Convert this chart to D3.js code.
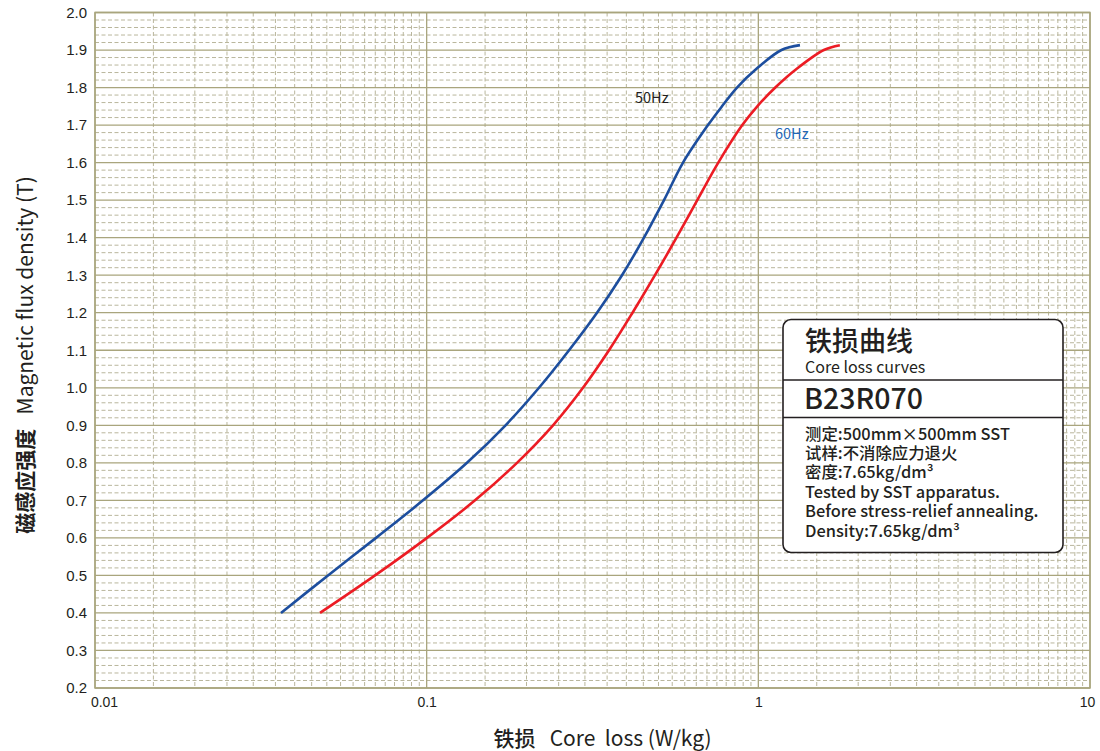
<!DOCTYPE html>
<html>
<head>
<meta charset="utf-8">
<script src="https://cdn.jsdelivr.net/npm/d3@7"></script>
<style>
  html, body { margin: 0; padding: 0; background: #ffffff; }
  svg { display: block; }
</style>
</head>
<body>
<svg id="chart" width="1100" height="751"></svg>
<script>
// Core loss (W/kg) vs. magnetic flux density (T)
const flux = [0.40, 0.50, 0.60, 0.70, 0.80, 0.90, 1.00, 1.10, 1.20, 1.30, 1.40, 1.50, 1.60, 1.70, 1.75, 1.80, 1.85, 1.90, 1.913];
const loss50 = [0.03637, 0.05041, 0.07036, 0.09749, 0.1323, 0.1729, 0.2181, 0.2687, 0.3263, 0.3881, 0.4521, 0.5195, 0.5929, 0.7050, 0.7770, 0.8623, 0.9873, 1.1744, 1.3352];
const loss60 = [0.04769, 0.06989, 0.1002, 0.1399, 0.1872, 0.2404, 0.2960, 0.3546, 0.4175, 0.4880, 0.5665, 0.6545, 0.7573, 0.8945, 0.9928, 1.125, 1.306, 1.576, 1.761];

const xTicks = [0.01, 0.1, 1, 10];
const xTickLabels = ["0.01", "0.1", "1", "10"];
const yTicks = [0.2, 0.3, 0.4, 0.5, 0.6, 0.7, 0.8, 0.9, 1.0, 1.1, 1.2, 1.3, 1.4, 1.5, 1.6, 1.7, 1.8, 1.9, 2.0];

const seriesLabels = ["50Hz", "60Hz"];
const boxTitle = "铁损曲线";
const boxSubtitle = "Core loss curves";
const gradeName = "B23R070";
const boxNotes = [
  "测定:500mm×500mm SST",
  "试样:不消除应力退火",
  "密度:7.65kg/dm³",
  "Tested by SST apparatus.",
  "Before stress-relief annealing.",
  "Density:7.65kg/dm³"
];
const xTitleCn = "铁损", xTitleEn = "Core  loss (W/kg)";
const yTitleCn = "磁感应强度", yTitleEn = "Magnetic flux density (T)";

const svg = d3.select("#chart");
const plot = { left: 95, right: 1090, top: 12.5, bottom: 688 };

const x = d3.scaleLog().domain([0.01, 10]).range([plot.left, plot.right]);
const y = d3.scaleLinear().domain([0.2, 2.0]).range([plot.bottom, plot.top]);

const majorCol = "#a9a57d";
const minorCol = "#b9b69c";
const textCol = "#231f20";
const cjk = "Noto Sans CJK SC, Noto Sans, sans-serif";

const grid = svg.append("g");

// minor horizontal grid every 0.02 T
const yMinor = d3.range(0, 91).map(i => 0.2 + i * 0.02).filter((v, i) => i % 5 !== 0);
grid.selectAll("line.hmin").data(yMinor).join("line")
  .attr("x1", plot.left).attr("x2", plot.right)
  .attr("y1", d => y(d)).attr("y2", d => y(d))
  .attr("stroke", minorCol).attr("stroke-width", 1)
  .attr("stroke-dasharray", "4,2.5");

// minor vertical grid every half unit within each decade
const xMinor = [];
[0.01, 0.1, 1].forEach(dec => {
  for (let m = 1.5; m < 10; m += 0.5) xMinor.push(dec * m);
});
grid.selectAll("line.vmin").data(xMinor).join("line")
  .attr("x1", d => x(d)).attr("x2", d => x(d))
  .attr("y1", plot.top).attr("y2", plot.bottom)
  .attr("stroke", minorCol).attr("stroke-width", 1)
  .attr("stroke-dasharray", "4,2.5");

// major grid lines
grid.selectAll("line.hmaj").data(yTicks).join("line")
  .attr("x1", plot.left).attr("x2", plot.right)
  .attr("y1", d => y(d)).attr("y2", d => y(d))
  .attr("stroke", majorCol).attr("stroke-width", 1.3);
grid.selectAll("line.vmaj").data(xTicks).join("line")
  .attr("x1", d => x(d)).attr("x2", d => x(d))
  .attr("y1", plot.top).attr("y2", plot.bottom)
  .attr("stroke", majorCol).attr("stroke-width", 1.3);

grid.append("rect")
  .attr("x", plot.left).attr("y", plot.top)
  .attr("width", plot.right - plot.left).attr("height", plot.bottom - plot.top)
  .attr("fill", "none").attr("stroke", majorCol).attr("stroke-width", 1.5);

// axes (labels only; the grid supplies the lines)
const yAxis = d3.axisLeft(y).tickValues(yTicks).tickFormat(d3.format(".1f")).tickSize(0).tickPadding(8);
const gy = svg.append("g").attr("transform", `translate(${plot.left},0)`).call(yAxis);
gy.select(".domain").remove();
gy.selectAll("text")
  .attr("font-family", "Liberation Sans, Arial, sans-serif")
  .attr("font-size", 15).attr("fill", textCol);

const xAxis = d3.axisBottom(x).tickValues(xTicks)
  .tickFormat((d, i) => xTickLabels[i]).tickSize(0).tickPadding(9);
const gx = svg.append("g").attr("transform", `translate(0,${plot.bottom})`).call(xAxis);
gx.select(".domain").remove();
gx.selectAll("text")
  .attr("font-family", "Liberation Sans, Arial, sans-serif")
  .attr("font-size", 14).attr("fill", textCol)
  .attr("dx", (d, i) => i === 0 ? 9 : (i === 3 ? -3 : 0));

// curves
const line = d3.line()
  .x(d => x(d[0])).y(d => y(d[1]))
  .curve(d3.curveCatmullRom.alpha(0.5));

const series = [
  { loss: loss50, color: "#1d4e9e" },
  { loss: loss60, color: "#ec1c24" }
];
series.forEach(s => {
  const pts = s.loss.map((v, i) => [v, flux[i]]);
  svg.append("path").datum(pts)
    .attr("d", line)
    .attr("fill", "none").attr("stroke", s.color)
    .attr("stroke-width", 2.6).attr("stroke-linecap", "butt");
});

// curve labels
svg.append("text").attr("x", 635).attr("y", 103).text(seriesLabels[0])
  .attr("font-family", cjk).attr("font-size", 14.5).attr("fill", textCol);
svg.append("text").attr("x", 775).attr("y", 139).text(seriesLabels[1])
  .attr("font-family", cjk).attr("font-size", 14.5).attr("fill", "#2267b8");

// info box
const box = { x: 783, y: 319.5, w: 280, h: 233 };
const bg = svg.append("g");
bg.append("rect")
  .attr("x", box.x).attr("y", box.y).attr("width", box.w).attr("height", box.h)
  .attr("rx", 8).attr("ry", 8)
  .attr("fill", "#ffffff").attr("stroke", "#231f20").attr("stroke-width", 1.6);
[380, 417.5].forEach(yy => {
  bg.append("line").attr("x1", box.x).attr("x2", box.x + box.w)
    .attr("y1", yy).attr("y2", yy)
    .attr("stroke", "#231f20").attr("stroke-width", 1.4);
});
bg.append("text").attr("x", 805).attr("y", 351).text(boxTitle)
  .attr("font-family", cjk).attr("font-size", 27).attr("font-weight", 500).attr("fill", textCol);
bg.append("text").attr("x", 805).attr("y", 373).text(boxSubtitle)
  .attr("font-family", cjk).attr("font-size", 16).attr("fill", textCol);
bg.append("text").attr("x", 804).attr("y", 409).text(gradeName)
  .attr("font-family", cjk).attr("font-size", 28.5).attr("font-weight", 500).attr("fill", textCol);
const noteY = [440, 459, 478, 497.5, 516.5, 536.5];
boxNotes.forEach((t, i) => {
  bg.append("text").attr("x", 805).attr("y", noteY[i]).text(t)
    .attr("font-family", cjk).attr("font-size", 16.4).attr("font-weight", 500)
    .attr("fill", textCol);
});

// axis titles
const xt = svg.append("text")
  .attr("x", (plot.left + plot.right) / 2 + 10).attr("y", 746)
  .attr("text-anchor", "middle")
  .attr("font-family", cjk).attr("font-size", 21).attr("fill", textCol)
  .style("white-space", "pre");
xt.append("tspan").attr("font-weight", 500).text(xTitleCn + "   ");
xt.append("tspan").text(xTitleEn);

const yt = svg.append("text")
  .attr("transform", "translate(33,355) rotate(-90)")
  .attr("text-anchor", "middle")
  .attr("font-family", cjk).attr("font-size", 21).attr("fill", textCol)
  .style("white-space", "pre");
yt.append("tspan").attr("font-weight", 700).text(yTitleCn + "   ");
yt.append("tspan").text(yTitleEn);
</script>
</body>
</html>
